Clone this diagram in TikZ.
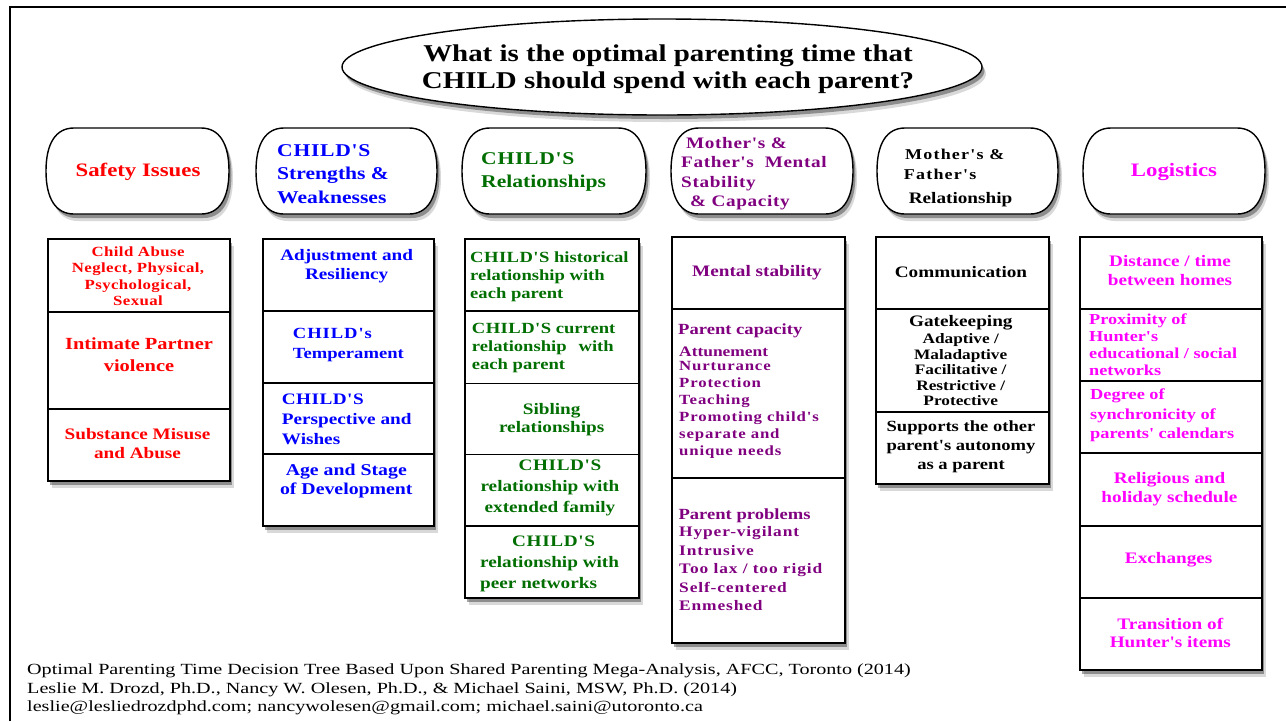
\documentclass[tikz,border=0pt]{standalone}
\usepackage{fontspec}
\setmainfont[FakeStretch=1.2,Ligatures=TeXOff]{Liberation Serif}
\newfontfamily\footf[FakeStretch=1.3,Ligatures=TeXOff]{Liberation Serif}
\usetikzlibrary{shapes.geometric,shadows}
\definecolor{cred}{RGB}{255,0,0}
\definecolor{cblue}{RGB}{0,0,255}
\definecolor{cgreen}{RGB}{0,110,0}
\definecolor{cpurp}{RGB}{128,0,128}
\definecolor{cmag}{RGB}{255,0,255}
\newcommand\fsz[2]{\fontsize{#1}{#2}\selectfont}
\newcommand\lsp[2]{{\addfontfeatures{LetterSpace=#1}#2}}
\newcommand\hdrshape[4]{%
  \draw[hdr] ({#1+28},#2) -- ({#3-28},#2)
    .. controls ({#3-10},#2) and (#3,{#2+15}) .. (#3,{(#2+#4)/2})
    .. controls (#3,{#4-15}) and ({#3-10},#4) .. ({#3-28},#4)
    -- ({#1+28},#4)
    .. controls ({#1+10},#4) and (#1,{#4-15}) .. (#1,{(#2+#4)/2})
    .. controls (#1,{#2+15}) and ({#1+10},#2) .. ({#1+28},#2) -- cycle;}
\tikzset{
  shad/.style={drop shadow={shadow xshift=4pt,shadow yshift=-7pt,opacity=.15,fill=black},
               drop shadow={shadow xshift=2.5pt,shadow yshift=-4pt,opacity=.35,fill=black}},
  hdr/.style={draw=black,line width=1.4pt,fill=white,shad},
  cell/.style={draw=black,line width=1.5pt,fill=white,rectangle,inner sep=0pt,anchor=north west,shad},
  txt/.style={inner sep=0pt},
  fz/.style 2 args={font={\bfseries\fsz{#1}{#2}}},
  fzl/.style n args={3}{font={\bfseries\fsz{#1}{#2}\addfontfeatures{LetterSpace=#3}}},
}
\begin{document}
\begin{tikzpicture}[x=1pt,y=-1pt]
\useasboundingbox (0,0) rectangle (1286,721);
\fill[white] (0,0) rectangle (1286,721);
\draw[line width=2.4pt] (10,721) -- (10,7) -- (1286,7);

% title
\node[ellipse,draw,line width=1.4pt,fill=white,shad,minimum width=640,minimum height=96,inner sep=0pt] (q) at (662,67) {};
\node[txt,align=center,font={\bfseries\fsz{24.1}{27}}] (qt) at (668,68.8)
  {What is the optimal parenting time that\\CHILD should spend with each parent?};

% headers
\hdrshape{46}{128}{229}{214}
\hdrshape{256}{128}{437}{214}
\hdrshape{462}{128}{646}{214}
\hdrshape{671}{128}{853}{214}
\hdrshape{877}{128}{1058}{214}
\hdrshape{1083}{128}{1265}{214}

\node[txt,text=cred,fz={19}{22}] (h1) at (138,171.8) {Safety Issues};
\node[txt,text=cblue,fz={18}{23.5},align=left,anchor=west] (h2) at (277,174.1) {\lsp{4}{CHILD'S}\\Strengths \&\\Weaknesses};
\node[txt,text=cgreen,fz={18}{23.5},align=left,anchor=west] (h3) at (481,172.1) {\lsp{4}{CHILD'S}\\Relationships};
\node[txt,text=cpurp,fzl={16}{19.5}{4},align=left,anchor=west] (h4) at (681,173.7) {\hspace*{5pt}Mother's \&\\Father's\ \ Mental\\Stability\\\hspace*{9pt}\& Capacity};
\node[txt,fzl={15}{18}{8},anchor=base west] (h5a) at (905,159) {Mother's \&};
\node[txt,fzl={15}{18}{8},anchor=base west] (h5b) at (903.7,179) {Father's};
\node[txt,fz={16}{19},anchor=base west] (h5c) at (908.6,203) {Relationship};
\node[txt,text=cmag,fz={19}{22}] (h6) at (1174,171.8) {Logistics};

% column 1
\node[cell,minimum width=182,minimum height=73] (c11) at (47,238) {};
\node[cell,minimum width=182,minimum height=97] (c12) at (47,311) {};
\node[cell,minimum width=182,minimum height=72] (c13) at (47,408) {};
\node[txt,text=cred,fzl={14}{16.3}{3},align=center] (t11) at (138,276.3) {Child Abuse\\Neglect, Physical,\\Psychological,\\Sexual};
\node[txt,text=cred,fz={17}{22},align=center] (t12) at (139,354.9) {Intimate Partner\\violence};
\node[txt,text=cred,fz={16}{19},align=center] (t13) at (137.5,443.7) {Substance Misuse\\and Abuse};

% column 2
\node[cell,minimum width=171,minimum height=72] (c21) at (262,238) {};
\node[cell,minimum width=171,minimum height=72] (c22) at (262,310) {};
\node[cell,minimum width=171,minimum height=71] (c23) at (262,382) {};
\node[cell,minimum width=171,minimum height=72] (c24) at (262,453) {};
\node[txt,text=cblue,fz={16}{19},align=center] (t21) at (346.7,266.4) {Adjustment and\\Resiliency};
\node[txt,text=cblue,fz={15.5}{20.7},align=left,anchor=west] (t22) at (292.7,345) {\lsp{6}{CHILD's}\\Temperament};
\node[txt,text=cblue,fz={16}{20},align=left,anchor=west] (t23) at (281.7,419.5) {\lsp{3}{CHILD'S}\\Perspective and\\Wishes};
\node[txt,text=cblue,fz={16.5}{19},align=center] (t24) at (346.3,481.2) {Age and Stage\\of Development};

% column 3
\node[cell,minimum width=174,minimum height=72] (c31) at (464,238) {};
\node[cell,minimum width=174,minimum height=72.5] (c32) at (464,310) {};
\node[cell,minimum width=174,minimum height=71] (c33) at (464,382.5) {};
\node[cell,minimum width=174,minimum height=71.5] (c34) at (464,453.5) {};
\node[cell,minimum width=174,minimum height=72] (c35) at (464,525) {};
\node[txt,text=cgreen,fz={15.5}{18},align=left,anchor=west] (t31) at (470,276.6) {\lsp{3}{CHILD'S} historical\\relationship with\\each parent};
\node[txt,text=cgreen,fz={15.5}{18},align=left,anchor=west] (t32) at (471.7,348.3) {\lsp{3}{CHILD'S} current\\relationship\hspace{12pt}with\\each parent};
\node[txt,text=cgreen,fz={16}{18},align=center] (t33) at (551.7,419.2) {Sibling\\relationships};
\node[txt,text=cgreen,fz={16}{21},align=center] (t34) at (550,487.7) {\hspace*{20pt}\lsp{4}{CHILD'S}\\relationship with\\extended family};
\node[txt,text=cgreen,fz={16}{21},align=left,anchor=west] (t35) at (480,563.5) {\hspace*{32pt}\lsp{4}{CHILD'S}\\relationship with\\peer networks};

% column 4
\node[cell,minimum width=173,minimum height=72] (c41) at (671,236) {};
\node[cell,minimum width=173,minimum height=169] (c42) at (671,308) {};
\node[cell,minimum width=173,minimum height=165] (c43) at (671,477) {};
\node[txt,text=cpurp,fz={16}{19}] (t41) at (757,272.3) {Mental stability};
\node[txt,text=cpurp,fz={15.5}{18},anchor=base west] (t42a) at (678,334) {Parent capacity};
\node[txt,text=cpurp,fz={14.5}{17},anchor=base west] (t42b) at (679,356) {Attunement};
\node[txt,text=cpurp,fzl={14}{17}{6},align=left,anchor=west] (t42c) at (679,410) {Nurturance\\Protection\\Teaching\\Promoting child's\\separate and\\unique needs};
\node[txt,text=cpurp,fz={15.5}{18},anchor=base west] (t43a) at (678.3,519.3) {Parent problems};
\node[txt,text=cpurp,fzl={14.5}{18.5}{6},align=left,anchor=west] (t43b) at (679,568.6) {Hyper-vigilant\\Intrusive\\Too lax / too rigid\\Self-centered\\Enmeshed};

% column 5
\node[cell,minimum width=173,minimum height=72] (c51) at (875,236) {};
\node[cell,minimum width=173,minimum height=103] (c52) at (875,308) {};
\node[cell,minimum width=173,minimum height=72] (c53) at (875,411) {};
\node[txt,fz={16}{19}] (t51) at (961,272.5) {Communication};
\node[txt,fz={16}{19},anchor=base] (t52a) at (960.8,326) {Gatekeeping};
\node[txt,fz={14.4}{15.5},align=center] (t52b) at (960.7,369.9) {Adaptive /\\Maladaptive\\Facilitative /\\Restrictive /\\Protective};
\node[txt,fz={15.5}{19},align=center] (t53) at (961,446.8) {Supports the other\\parent's autonomy\\as a parent};

% column 6
\node[cell,minimum width=182,minimum height=72] (c61) at (1079,236) {};
\node[cell,minimum width=182,minimum height=72] (c62) at (1079,308) {};
\node[cell,minimum width=182,minimum height=72] (c63) at (1079,380) {};
\node[cell,minimum width=182,minimum height=73] (c64) at (1079,452) {};
\node[cell,minimum width=182,minimum height=72] (c65) at (1079,525) {};
\node[cell,minimum width=182,minimum height=72] (c66) at (1079,597) {};
\node[txt,text=cmag,fz={16}{19},align=center] (t61) at (1170,270.7) {Distance / time\\between homes};
\node[txt,text=cmag,fz={15.2}{17},align=left,anchor=west] (t62) at (1089,345.1) {Proximity of\\Hunter's\\educational / social\\networks};
\node[txt,text=cmag,fz={15.3}{19.3},align=left,anchor=west] (t63) at (1090,415.4) {Degree of\\synchronicity of\\parents' calendars};
\node[txt,text=cmag,fz={16}{19.3},align=center] (t64) at (1169.5,488.9) {Religious and\\holiday schedule};
\node[txt,text=cmag,fz={16}{19}] (t65) at (1168.7,559.5) {Exchanges};
\node[txt,text=cmag,fz={16}{18.4},align=center] (t66) at (1170.3,632.7) {Transition of\\Hunter's items};

% footer
\node[txt,font=\footf\fsz{15.5}{18},anchor=base west] (f1) at (27,674) {Optimal Parenting Time Decision Tree Based Upon Shared Parenting Mega-Analysis, AFCC, Toronto (2014)};
\node[txt,font=\footf\fsz{15.5}{18},anchor=base west] (f2) at (27,693) {Leslie M. Drozd, Ph.D., Nancy W. Olesen, Ph.D., \& Michael Saini, MSW, Ph.D. (2014)};
\node[txt,font=\footf\fsz{15.5}{18},anchor=base west] (f3) at (27,711) {leslie@lesliedrozdphd.com; nancywolesen@gmail.com; michael.saini@utoronto.ca};
\end{tikzpicture}
\end{document}
